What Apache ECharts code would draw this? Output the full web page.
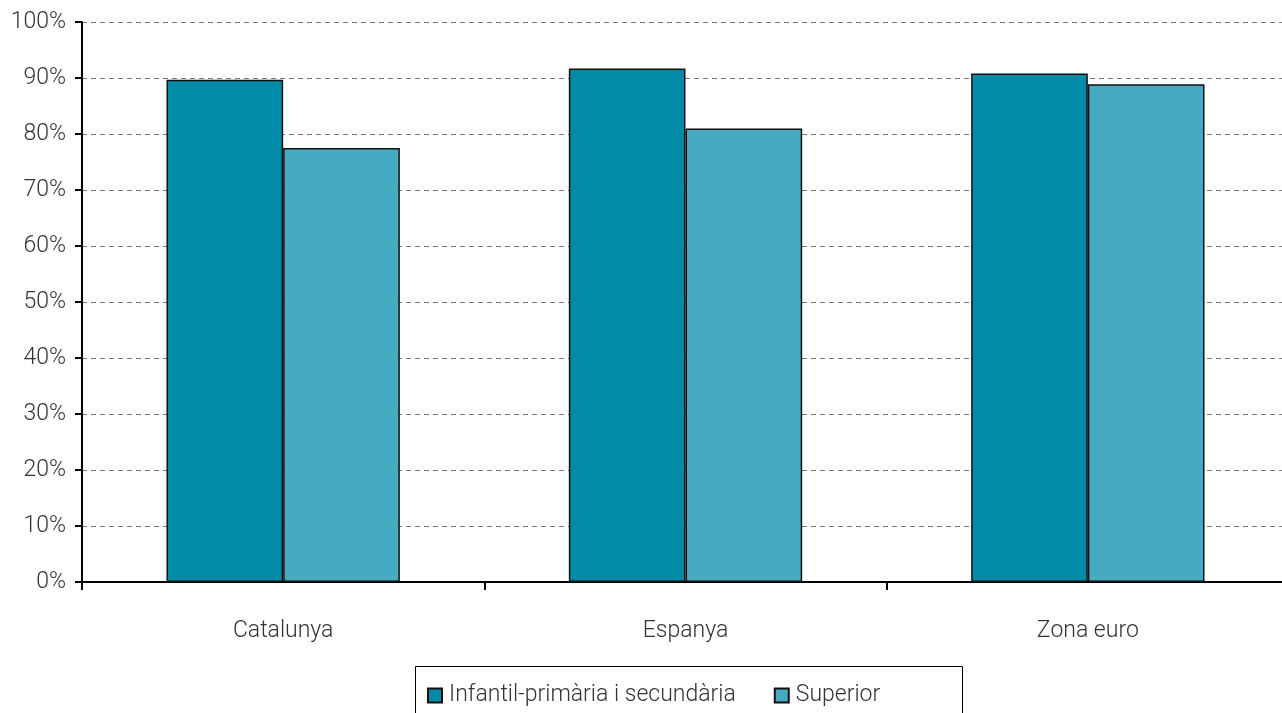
<!DOCTYPE html>
<html><head><meta charset="utf-8">
<script src="https://cdn.jsdelivr.net/npm/echarts@6/dist/echarts.min.js"></script>
<style>html,body{margin:0;padding:0;background:#fff;overflow:hidden}#c{width:1290px;height:713px}</style>
</head><body><div id="c"></div>
<script>
const categories = ['Catalunya', 'Espanya', 'Zona euro'];
const seriesNames = ['Infantil-primària i secundària', 'Superior'];
const infantilValues = [89.7, 91.7, 90.8];
const superiorValues = [77.5, 81.0, 88.9];
const yTicks = [0, 10, 20, 30, 40, 50, 60, 70, 80, 90, 100];

const font = {fontFamily: 'Roboto', fontWeight: 300, color: '#333', fontSize: 23};
const chart = echarts.init(document.getElementById('c'), null, {renderer: 'canvas'});
chart.setOption({
  animation: false,
  grid: {left: 82, right: 1, top: 22, height: 560, containLabel: false},
  xAxis: {
    type: 'category', data: categories,
    axisLine: {lineStyle: {color: '#000', width: 2}},
    axisTick: {show: true, length: 8, lineStyle: {color: '#000', width: 2}},
    axisLabel: Object.assign({margin: 38}, font)
  },
  yAxis: {
    type: 'value', min: yTicks[0], max: yTicks[yTicks.length - 1], interval: 10,
    axisLine: {show: true, lineStyle: {color: '#000', width: 2}},
    axisTick: {show: true, length: 7, lineStyle: {color: '#000', width: 2}},
    axisLabel: Object.assign({margin: 16, formatter: v => v + '%'}, font),
    splitLine: {show: true, lineStyle: {color: '#777', type: [5, 4], width: 1}}
  },
  legend: {
    left: 422, top: 679, itemWidth: 14, itemHeight: 14, itemGap: 38,
    icon: 'rect',
    textStyle: Object.assign({}, font, {padding: [0, 0, 0, 2]}),
    data: seriesNames
  },
  graphic: [{type: 'rect', shape: {x: 415.5, y: 666.5, width: 547, height: 60},
    style: {fill: 'none', stroke: '#000', lineWidth: 1}}],
  series: [
    {name: seriesNames[0], type: 'bar', data: infantilValues, barGap: '0%', barCategoryGap: '42%',
     itemStyle: {color: '#028ba7', borderColor: '#111', borderWidth: 1.5}},
    {name: seriesNames[1], type: 'bar', data: superiorValues,
     itemStyle: {color: '#46aac0', borderColor: '#111', borderWidth: 1.5}}
  ]
});
</script></body></html>
